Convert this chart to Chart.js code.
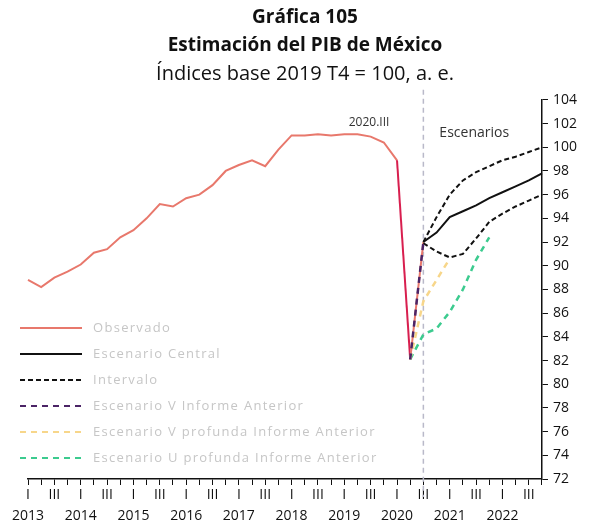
<!DOCTYPE html>
<html>
<head>
<meta charset="utf-8">
<script src="https://cdn.jsdelivr.net/npm/chart.js@4.4.0/dist/chart.umd.min.js"></script>
<style>
  body { margin: 0; background: #fff; }
  #wrap { width: 590px; height: 527px; position: relative; }
</style>
</head>
<body>
<div id="wrap"><canvas id="pibChart"></canvas></div>
<script>
// Trimestres 2013.I - 2022.IV
const years = [2013, 2014, 2015, 2016, 2017, 2018, 2019, 2020, 2021, 2022];
const quarterNames = ['I', 'II', 'III', 'IV'];
const quarters = [];
years.forEach(y => quarterNames.forEach(q => quarters.push(y + '.' + q)));

const seriesNames = ['Observado', 'Escenario Central', 'Intervalo',
    'Escenario V Informe Anterior', 'Escenario V profunda Informe Anterior',
    'Escenario U profunda Informe Anterior'];

// Observado 2013.I - 2020.III
const observado = [88.8, 88.2, 89.0, 89.5, 90.1, 91.1, 91.4, 92.4,
    93.0, 94.0, 95.2, 95.0, 95.7, 96.0, 96.8, 98.0,
    98.5, 98.9, 98.4, 99.8, 101.0, 101.0, 101.1, 101.0,
    101.1, 101.1, 100.9, 100.4, 98.9, 82.1, 92.0];
// Escenarios 2020.III - 2022.IV
const central = [92.0, 92.8, 94.1, 94.6, 95.1, 95.7, 96.2, 96.7, 97.2, 97.8];
const intervaloAlto = [92.0, 94.1, 96.0, 97.2, 97.9, 98.4, 98.9, 99.2, 99.6, 100.0];
const intervaloBajo = [91.9, 91.2, 90.7, 91.0, 92.3, 93.7, 94.4, 95.0, 95.5, 96.0];
// Informe anterior, desde 2020.II
const vAnterior = [82.1, 92.0];
const vProfunda = [82.1, 87.0, 88.8, 90.6];
const uProfunda = [82.1, 84.2, 84.7, 86.1, 88.0, 90.5, 92.4];

const yTicks = [72, 74, 76, 78, 80, 82, 84, 86, 88, 90, 92, 94, 96, 98, 100, 102, 104];

// pone una serie en la posición del trimestre donde empieza
function placeAt(startIndex, values) {
    const out = new Array(quarters.length).fill(null);
    values.forEach((v, i) => { out[startIndex + i] = v; });
    return out;
}

const FONT = "'Open Sans', 'DejaVu Sans', sans-serif";

// Línea vertical en 2020.III y textos
const markerPlugin = {
    id: 'marker',
    beforeDatasetsDraw(chart) {
        const { ctx, chartArea, scales } = chart;
        const x = scales.x.getPixelForValue(quarters.indexOf('2020.III'));
        ctx.save();
        ctx.strokeStyle = '#b9b9c9';
        ctx.lineWidth = 1.5;
        ctx.setLineDash([5, 4]);
        ctx.beginPath();
        ctx.moveTo(x, chartArea.top - 10);
        ctx.lineTo(x, chartArea.bottom + 18);
        ctx.stroke();
        ctx.setLineDash([]);
        ctx.fillStyle = '#333';
        ctx.font = '12px ' + FONT;
        ctx.textAlign = 'right';
        ctx.textBaseline = 'middle';
        ctx.fillText('2020.III', x - 34, chartArea.top + 23);
        ctx.textAlign = 'left';
        ctx.font = '14px ' + FONT;
        ctx.fillText('Escenarios', x + 16, chartArea.top + 33);
        ctx.restore();
    }
};

// Leyenda dentro del área de la gráfica
const legendPlugin = {
    id: 'insideLegend',
    afterDraw(chart) {
        const { ctx } = chart;
        const shown = [0, 1, 2, 4, 5, 6];
        ctx.save();
        shown.forEach((di, row) => {
            const ds = chart.data.datasets[di];
            const y = 328 + row * 26;
            ctx.strokeStyle = ds.borderColor;
            ctx.lineWidth = 2;
            ctx.setLineDash(ds.borderDash || []);
            ctx.beginPath();
            ctx.moveTo(20, y);
            ctx.lineTo(82, y);
            ctx.stroke();
            ctx.setLineDash([]);
            ctx.fillStyle = '#c6c6c6';
            ctx.font = '13px ' + FONT;
            ctx.letterSpacing = '1.3px';
            ctx.textAlign = 'left';
            ctx.textBaseline = 'middle';
            ctx.fillText(ds.label, 93, y);
        });
        ctx.restore();
    }
};

const ctx = document.getElementById('pibChart').getContext('2d');
new Chart(ctx, {
    type: 'line',
    data: {
        labels: quarters,
        datasets: [{
            label: seriesNames[0],
            data: placeAt(0, observado),
            borderColor: '#e8786c',
            borderWidth: 2,
            segment: {
                borderColor: c => c.p0DataIndex === 28 ? '#d81f4f' : undefined
            },
            order: 3
        }, {
            label: seriesNames[1],
            data: placeAt(30, central),
            borderColor: '#111',
            borderWidth: 2,
            order: 1
        }, {
            label: seriesNames[2],
            data: placeAt(30, intervaloAlto),
            borderColor: '#111',
            borderWidth: 2,
            borderDash: [5, 3],
            order: 1
        }, {
            label: seriesNames[2],
            data: placeAt(30, intervaloBajo),
            borderColor: '#111',
            borderWidth: 2,
            borderDash: [5, 3],
            order: 1
        }, {
            label: seriesNames[3],
            data: placeAt(29, vAnterior),
            borderColor: '#4b2466',
            borderWidth: 2.5,
            borderDash: [6, 5],
            order: 0
        }, {
            label: seriesNames[4],
            data: placeAt(29, vProfunda),
            borderColor: '#f7d68a',
            borderWidth: 2.5,
            borderDash: [6, 5],
            order: 2
        }, {
            label: seriesNames[5],
            data: placeAt(29, uProfunda),
            borderColor: '#3ccb8f',
            borderWidth: 2.5,
            borderDash: [6, 5],
            order: 2
        }]
    },
    options: {
        responsive: true,
        maintainAspectRatio: false,
        animation: false,
        elements: { point: { radius: 0 }, line: { tension: 0 } },
        layout: { padding: { left: 28, right: 8, top: 0, bottom: 0 } },
        plugins: {
            legend: { display: false },
            tooltip: { enabled: false },
            title: {
                display: true,
                text: ['Gráfica 105', 'Estimación del PIB de México'],
                color: '#111',
                font: { family: FONT, size: 19, weight: 'bold', lineHeight: 1.47 },
                padding: { top: 4, bottom: 0 }
            },
            subtitle: {
                display: true,
                text: 'Índices base 2019 T4 = 100, a. e.',
                color: '#111',
                font: { family: FONT, size: 20, lineHeight: 1.4 },
                padding: { top: 0, bottom: 12 }
            }
        },
        scales: {
            x: {
                offset: false,
                grid: { display: true, drawOnChartArea: false, drawTicks: true, tickLength: 6, color: '#111' },
                border: { color: '#111', width: 1.5 },
                ticks: {
                    autoSkip: false,
                    maxRotation: 0,
                    color: '#111',
                    font: { family: FONT, size: 14, lineHeight: 1.5 },
                    padding: 0,
                    callback: (v, i) => {
                        const q = quarters[i].split('.')[1];
                        if (q === 'I') return ['I', quarters[i].split('.')[0]];
                        if (q === 'III') return ['III', ''];
                        return ['', ''];
                    }
                }
            },
            y: {
                position: 'right',
                min: yTicks[0],
                max: yTicks[yTicks.length - 1],
                afterBuildTicks: axis => { axis.ticks = yTicks.map(v => ({ value: v })); },
                grid: { display: true, drawOnChartArea: false, drawTicks: true, tickLength: 6, color: '#111' },
                border: { color: '#111', width: 1.5 },
                ticks: {
                    color: '#111',
                    font: { family: FONT, size: 14 },
                    padding: 5
                }
            }
        }
    },
    plugins: [markerPlugin, legendPlugin]
});
</script>
</body>
</html>
